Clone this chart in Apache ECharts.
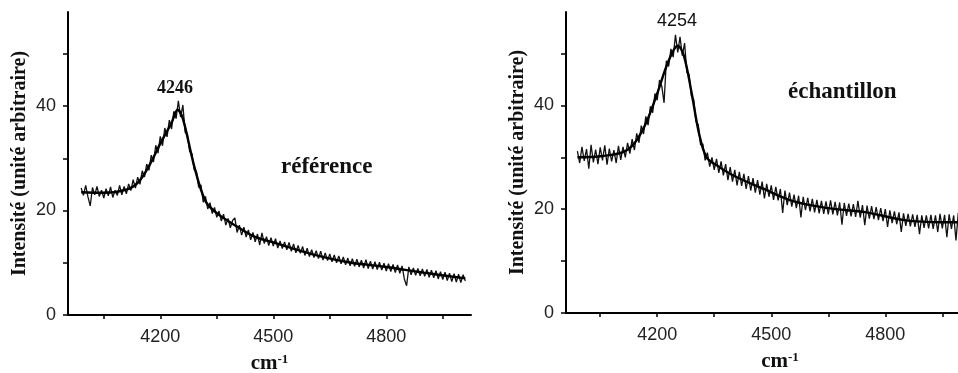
<!DOCTYPE html>
<html>
<head>
<meta charset="utf-8">
<script src="https://cdn.jsdelivr.net/npm/echarts@6/dist/echarts.min.js"></script>
<style>
  html, body { margin: 0; padding: 0; background: #fff; }
  #chart { width: 958px; height: 373px; }
</style>
</head>
<body>
<div id="chart"></div>
<script>
// échantillonnage des spectres : 3990 -> 5010 cm-1, pas de 6 cm-1
const WAVE_START = 3990;
const WAVE_STEP = 6;

// spectre "référence" (bruit compris)
const refSpectrum = [
  24.3, 22.9, 24.8, 22.6, 20.9, 24.4, 23.0, 24.6, 22.7, 23.9,
  22.4, 24.2, 22.8, 24.5, 22.5, 23.9, 22.9, 24.8, 23.0, 24.6,
  23.2, 25.1, 23.8, 25.9, 24.3, 26.4, 25.0, 27.6, 26.4, 28.9,
  27.7, 30.6, 29.3, 32.5, 31.0, 34.2, 32.4, 35.8, 34.1, 37.3,
  35.6, 39.0, 37.6, 41.0, 37.9, 40.2, 35.0, 34.6, 31.3, 30.9,
  27.8, 27.5, 24.4, 24.9, 21.6, 22.7, 20.3, 21.5, 19.4, 20.6,
  18.7, 19.9, 18.0, 19.3, 17.2, 18.5, 16.7, 18.1, 18.6, 15.8,
  17.2, 15.3, 16.8, 14.9, 16.3, 14.4, 15.8, 14.0, 15.5, 13.4,
  15.7, 13.7, 15.0, 13.3, 14.8, 13.2, 14.6, 12.8, 14.2, 12.7,
  14.0, 12.5, 13.9, 12.2, 13.6, 11.9, 13.3, 11.8, 13.1, 11.4,
  12.8, 11.2, 12.5, 11.0, 12.3, 10.8, 12.2, 10.5, 11.9, 10.4,
  11.7, 10.2, 11.5, 10.0, 11.3, 9.8, 11.1, 9.6, 10.9, 9.4,
  10.8, 9.3, 10.7, 9.2, 10.5, 9.0, 10.6, 8.9, 10.3, 8.8,
  10.2, 8.7, 10.1, 8.6, 9.9, 8.4, 9.8, 8.3, 9.7, 8.1,
  9.6, 8.0, 9.4, 6.9, 5.6, 9.2, 7.7, 9.0, 7.6, 8.9,
  7.5, 8.8, 7.4, 8.7, 7.2, 8.6, 7.1, 8.5, 6.9, 8.3,
  6.8, 8.2, 6.6, 8.0, 6.4, 7.9, 6.3, 7.8, 6.2, 7.7,
  6.5
];

// spectre "échantillon"
const echSpectrum = [
  31.2, 28.9, 32.0, 29.3, 31.6, 27.8, 32.4, 29.0, 31.5, 28.7,
  31.9, 29.4, 32.3, 28.6, 31.7, 29.2, 31.4, 28.9, 32.2, 29.5,
  32.0, 30.0, 32.8, 30.7, 33.5, 31.4, 34.6, 32.8, 36.1, 34.5,
  37.9, 36.2, 39.8, 38.6, 42.3, 41.0, 44.9, 43.7, 40.5, 48.6,
  47.5, 50.9, 49.3, 53.6, 50.2, 53.2, 49.6, 52.0, 46.4, 45.9,
  41.8, 41.1, 36.9, 36.3, 32.4, 32.6, 29.4, 30.9, 28.2, 30.0,
  27.6, 29.7, 27.0, 29.2, 26.5, 28.7, 25.6, 28.1, 25.3, 27.6,
  24.6, 27.2, 24.5, 26.8, 23.9, 26.4, 23.6, 26.0, 23.2, 25.6,
  22.8, 25.3, 22.1, 24.9, 22.4, 24.6, 21.8, 24.3, 21.7, 23.9,
  19.3, 23.6, 20.8, 23.2, 20.5, 22.8, 20.2, 22.6, 18.4, 22.4,
  19.8, 22.2, 19.6, 22.0, 19.4, 21.8, 19.2, 21.6, 19.1, 21.5,
  19.0, 21.7, 19.0, 21.4, 18.8, 21.3, 17.0, 21.2, 18.7, 21.1,
  18.6, 21.0, 18.5, 21.6, 18.4, 20.8, 16.9, 20.7, 18.2, 20.6,
  18.1, 20.4, 17.9, 20.2, 17.7, 20.0, 16.6, 19.8, 17.3, 19.6,
  17.1, 19.4, 15.6, 19.2, 16.8, 19.1, 16.7, 19.0, 16.6, 18.9,
  15.2, 18.8, 16.4, 18.8, 16.3, 18.9, 16.2, 18.8, 15.6, 19.1,
  16.3, 18.9, 14.6, 19.0, 16.2, 18.8, 14.0, 19.3, 16.4, 18.7,
  16.5
];

// courbes lissées (tracé moyen)
const refFitX = [3990, 4050, 4110, 4140, 4170, 4200, 4230, 4246, 4260, 4290, 4320, 4350, 4400, 4450, 4500, 4600, 4700, 4800, 4900, 5010];
const refFitY = [23.5, 23.4, 24.0, 25.3, 28.5, 32.8, 36.8, 39.3, 37.6, 28.5, 21.8, 19.5, 17.1, 15.0, 13.9, 11.7, 10.1, 9.2, 8.1, 7.0];
const echFitX = [3990, 4050, 4110, 4140, 4170, 4200, 4230, 4254, 4270, 4290, 4310, 4330, 4360, 4400, 4480, 4560, 4650, 4750, 4850, 4950, 5010];
const echFitY = [30.0, 30.2, 31.0, 32.7, 36.5, 42.3, 48.6, 51.5, 49.6, 42.6, 34.6, 30.0, 28.3, 26.5, 23.9, 21.5, 20.2, 19.4, 17.9, 17.5, 17.5];

const xTicks = [4050, 4200, 4350, 4500, 4650, 4800, 4950];
const xLabels = [4200, 4500, 4800];
const yTicks = [0, 10, 20, 30, 40, 50];
const yLabels = [0, 20, 40];

const wavenumbers = refSpectrum.map((_, i) => WAVE_START + i * WAVE_STEP);
const pairs = (xs, ys) => ys.map((y, i) => [xs[i], y]);

const SERIF = "'Liberation Serif', 'DejaVu Serif', serif";
const SANS = "'Liberation Sans', Arial, sans-serif";

const makeX = (gridIndex, min, max) => ({
  type: "value",
  gridIndex,
  min,
  max,
  name: "{a|cm}{b|-1}",
  nameLocation: "middle",
  nameGap: 38,
  nameTextStyle: {
    rich: {
      a: { fontFamily: SERIF, fontWeight: "bold", fontSize: 21, color: "#111" },
      b: { fontFamily: SERIF, fontWeight: "bold", fontSize: 13, color: "#111", verticalAlign: "top" },
    },
  },
  axisLine: { show: true, onZero: false, lineStyle: { color: "#000", width: 2 } },
  axisTick: { show: true, inside: false, length: 4, customValues: xTicks, lineStyle: { color: "#000", width: 1.5 } },
  axisLabel: {
    customValues: xLabels,
    margin: 13,
    fontFamily: SANS,
    fontSize: 18,
    color: "#222",
    formatter: (v) => String(v),
  },
  splitLine: { show: false },
});

const makeY = (gridIndex) => ({
  type: "value",
  gridIndex,
  min: 0,
  max: 58,
  name: "Intensité (unité arbitraire)",
  nameLocation: "middle",
  nameRotate: 90,
  nameGap: 38,
  nameTextStyle: { fontFamily: SERIF, fontWeight: "bold", fontSize: 20, color: "#111" },
  axisLine: { show: true, lineStyle: { color: "#000", width: 2 } },
  axisTick: { show: true, inside: false, length: 5, customValues: yTicks, lineStyle: { color: "#000", width: 1.5 } },
  axisLabel: { customValues: yLabels, margin: 12, fontFamily: SANS, fontSize: 18, color: "#222" },
  splitLine: { show: false },
});

const noisyLine = (idx, values) => ({
  type: "line",
  xAxisIndex: idx,
  yAxisIndex: idx,
  data: pairs(wavenumbers, values),
  showSymbol: false,
  sampling: "none",
  lineStyle: { color: "#111", width: 1.3 },
  z: 2,
});

const fitLine = (idx, xs, ys) => ({
  type: "line",
  xAxisIndex: idx,
  yAxisIndex: idx,
  data: pairs(xs, ys),
  smooth: 0.35,
  showSymbol: false,
  lineStyle: { color: "#000", width: 2.4 },
  z: 3,
});

const chart = echarts.init(document.getElementById("chart"));
chart.setOption({
  backgroundColor: "#fff",
  animation: false,
  grid: [
    { left: 68, top: 12, right: 487, bottom: 58, outerBoundsMode: "none", containLabel: false },
    { left: 566, top: 12, right: -36, bottom: 60, outerBoundsMode: "none", containLabel: false },
  ],
  xAxis: [makeX(0, 3955, 5025), makeX(1, 3960, 5086)],
  yAxis: [makeY(0), makeY(1)],
  series: [
    noisyLine(0, refSpectrum),
    fitLine(0, refFitX, refFitY),
    noisyLine(1, echSpectrum),
    fitLine(1, echFitX, echFitY),
  ],
  graphic: [
    { type: "text", left: 157, top: 79, style: { text: "4246", font: `bold 18px ${SERIF}`, fill: "#111" } },
    { type: "text", left: 281, top: 156, style: { text: "référence", font: `bold 23px ${SERIF}`, fill: "#111" } },
    { type: "text", left: 657, top: 12, style: { text: "4254", font: `18px ${SANS}`, fill: "#111" } },
    { type: "text", left: 788, top: 81, style: { text: "échantillon", font: `bold 23px ${SERIF}`, fill: "#111" } },
  ],
});
</script>
</body>
</html>
